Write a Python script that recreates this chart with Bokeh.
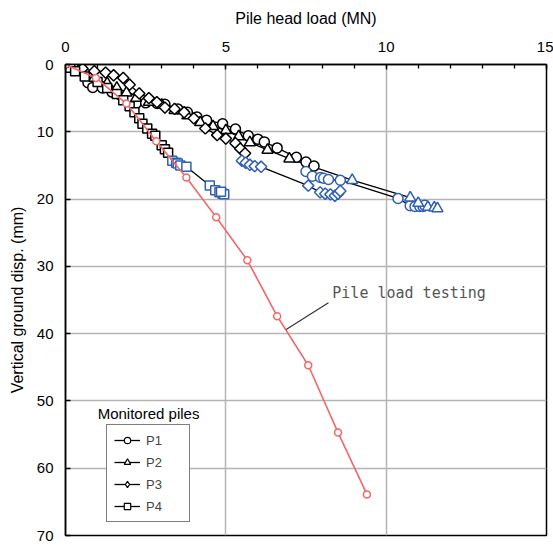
import math
from bokeh.plotting import figure
from bokeh.models import (Range1d, SingleIntervalTicker, Legend, LegendItem,
                          Label, ColumnDataSource)
from bokeh.embed import file_html
from bokeh.resources import INLINE

# ---------------- data (load in MN, vertical ground displacement in mm) -------------
p1_load_a = [0, 0.25, 0.7, 0.85, 1.15, 1.45, 1.7, 2.0, 2.2, 2.5, 2.86, 3.1, 3.5, 3.8,
             4.1, 4.4, 4.9, 5.3, 5.7, 6.0, 6.2, 6.6, 7.2, 7.5, 7.75]
p1_disp_a = [0, 0.5, 2.7, 3.4, 3.5, 4.1, 4.5, 5.0, 5.8, 5.7, 5.8, 5.9, 6.6, 7.1,
             7.8, 8.3, 8.8, 9.6, 10.6, 11.1, 11.5, 12.4, 13.8, 14.5, 15.1]
p1_load_b = [7.5, 7.7, 7.95, 8.05, 8.2, 8.57, 10.37, 10.75, 10.9, 11.05, 11.15, 11.2]
p1_disp_b = [15.9, 16.6, 16.8, 16.9, 17.1, 17.2, 19.9, 21.0, 21.1, 21.1, 21.1, 20.9]

p2_load_a = [0, 0.4, 0.9, 1.3, 1.6, 1.9, 2.2, 2.6, 3.0, 3.4, 3.8, 4.2, 4.6, 5.0,
             5.4, 5.75, 6.3, 6.98]
p2_disp_a = [0, 0.8, 2.0, 2.8, 3.5, 4.2, 5.0, 5.6, 6.0, 6.8, 7.6, 8.6, 9.2, 9.8,
             10.7, 11.6, 12.7, 14.0]
p2_load_b = [8.94, 10.75, 11.0, 11.3, 11.5, 11.6]
p2_disp_b = [17.2, 19.8, 20.6, 21.2, 21.3, 21.4]

p3_load_a = [0, 0.25, 0.53, 0.9, 1.25, 1.5, 1.8, 2.0, 2.3, 2.6, 2.85, 3.1, 3.4, 3.7,
             4.0, 4.36, 4.73, 5.0, 5.3, 5.45, 5.6]
p3_disp_a = [0, 0.3, 0.6, 1.0, 1.2, 1.6, 2.0, 3.0, 4.3, 5.0, 5.6, 6.4, 6.6, 7.1,
             8.0, 9.5, 10.5, 11.0, 11.7, 12.5, 13.2]
p3_load_b = [5.5, 5.62, 5.75, 5.9, 6.1, 7.57, 7.94, 8.1, 8.26, 8.4, 8.5, 8.57]
p3_disp_b = [14.3, 14.6, 14.9, 15.1, 15.2, 18.0, 19.0, 19.2, 19.3, 19.5, 19.2, 18.8]

p4_load_a = [0, 0.15, 0.3, 0.6, 1.0, 1.3, 1.6, 1.8, 2.0, 2.15, 2.3, 2.4, 2.55, 2.7,
             2.8, 3.0, 3.1, 3.2]
p4_disp_a = [0, 0.5, 1.0, 1.8, 2.6, 3.5, 4.4, 5.3, 6.2, 7.1, 8.0, 8.8, 9.5, 10.3,
             10.6, 12.0, 12.6, 13.1]
p4_load_b = [3.33, 3.45, 3.5, 3.58, 3.77, 4.5, 4.67, 4.8, 4.9, 4.95, 4.85]
p4_disp_b = [14.3, 14.6, 14.7, 15.0, 15.2, 18.0, 18.7, 19.0, 19.2, 19.3, 18.9]

test_load = [0, 0.95, 1.9, 2.83, 3.77, 4.7, 5.67, 6.6, 7.57, 8.5, 9.4]
test_disp = [0, 2.0, 5.8, 11.4, 16.8, 22.7, 29.1, 37.4, 44.7, 54.7, 63.9]

pile_names = ["P1", "P2", "P3", "P4"]
x_ticks_interval = 5
y_ticks_interval = 10

# ---------------- styling ----------------
BLACK = "#000000"
BLUE = "#2f5fb3"
RED = "#f06868"
GRID = "#b4b4b4"
FONT = "Liberation Sans"

p = figure(frame_width=481, frame_height=471, output_backend="svg",
           toolbar_location=None, x_axis_location="above",
           x_range=Range1d(0, 15), y_range=Range1d(70, 0),
           min_border_left=65, min_border_right=7, min_border_top=64,
           min_border_bottom=13)
p.background_fill_color = "white"
p.border_fill_color = "white"
p.outline_line_color = BLACK
p.outline_line_width = 1.5

xa = p.xaxis[0]
xa.ticker = SingleIntervalTicker(interval=x_ticks_interval, num_minor_ticks=5)
xa.axis_label = "Pile head load (MN)"
ya = p.yaxis[0]
ya.ticker = SingleIntervalTicker(interval=y_ticks_interval, num_minor_ticks=0)
ya.axis_label = "Vertical ground disp. (mm)"
for ax in (xa, ya):
    ax.axis_line_color = BLACK
    ax.axis_line_width = 1.5
    ax.major_tick_in = 5
    ax.major_tick_out = 0
    ax.minor_tick_in = 4
    ax.minor_tick_out = 0
    ax.major_tick_line_color = BLACK
    ax.minor_tick_line_color = BLACK
    ax.major_tick_line_width = 1.3
    ax.minor_tick_line_width = 1.3
    ax.major_label_text_font = FONT
    ax.major_label_text_font_size = "15px"
    ax.major_label_text_color = BLACK
    ax.axis_label_text_font = FONT
    ax.axis_label_text_font_size = "16px"
    ax.axis_label_text_font_style = "normal"
    ax.axis_label_text_color = BLACK
xa.major_label_standoff = 13
xa.axis_label_standoff = 12
ya.major_label_standoff = 12
ya.axis_label_standoff = 8

p.xgrid.ticker = SingleIntervalTicker(interval=x_ticks_interval)
p.ygrid.ticker = SingleIntervalTicker(interval=y_ticks_interval)
p.grid.grid_line_color = GRID
p.grid.grid_line_width = 1.5

piles = [
    ("P1", p1_load_a, p1_disp_a, p1_load_b, p1_disp_b, "circle", 10, 0),
    ("P2", p2_load_a, p2_disp_a, p2_load_b, p2_disp_b, "triangle", 11, 0),
    ("P3", p3_load_a, p3_disp_a, p3_load_b, p3_disp_b, "square", 8, math.pi / 4),
    ("P4", p4_load_a, p4_disp_a, p4_load_b, p4_disp_b, "square", 9, 0),
]
legend_markers = {"P1": ("circle", 7), "P2": ("triangle", 7),
                  "P3": ("diamond", 9), "P4": ("square", 6)}

# lines first
for name, la, da, lb, db, mk, sz, ang in piles:
    p.line(la + lb, da + db, line_color=BLACK, line_width=1.3)

# markers
for name, la, da, lb, db, mk, sz, ang in piles:
    p.scatter(la, da, marker=mk, size=sz, angle=ang, fill_color="white",
              line_color=BLACK, line_width=1.5)
    p.scatter(lb, db, marker=mk, size=sz, angle=ang, fill_color="white",
              line_color=BLUE, line_width=1.5)

# small legend glyphs: drawn at each pile's first reading (hidden under the origin marks)
items = []
for name, la, da, lb, db, mk, sz, ang in piles:
    lmk, lsz = legend_markers[name]
    src = ColumnDataSource(data=dict(x=la[:1], y=da[:1]))
    r1 = p.line("x", "y", source=src, line_color=BLACK, line_width=1.3)
    r2 = p.scatter("x", "y", source=src, marker=lmk, size=lsz,
                   fill_color="white", line_color=BLACK, line_width=1.2)
    items.append(LegendItem(label=name, renderers=[r1, r2]))

# pile load testing
p.line(test_load, test_disp, line_color=RED, line_width=1.6)
p.scatter(test_load, test_disp, marker="circle", size=7, fill_color="white",
          line_color=RED, line_width=1.5)

# annotation
p.segment(x0=[8.2], y0=[35.4], x1=[6.88], y1=[39.4], line_color="#333333",
          line_width=1.2)
p.add_layout(Label(x=8.32, y=34.0, text="Pile load testing",
                   text_font="DejaVu Sans Mono", text_font_size="15px",
                   text_color="#555555", text_baseline="middle",
                   text_align="left"))

legend = Legend(items=items, location=(41, 13), margin=0, padding=7, spacing=6,
                glyph_width=26, glyph_height=16, label_height=16, label_width=36,
                label_standoff=6, label_text_font=FONT, label_text_font_size="13px",
                border_line_color=BLACK, border_line_width=1.2,
                background_fill_color="white", background_fill_alpha=1.0)
p.add_layout(legend)

p.add_layout(Label(x=2.59, y=51.9, text="Monitored piles", text_font=FONT,
                   text_font_size="15px", text_color=BLACK, text_align="center",
                   text_baseline="middle"))

open("out.html", "w").write(file_html(p, INLINE))
